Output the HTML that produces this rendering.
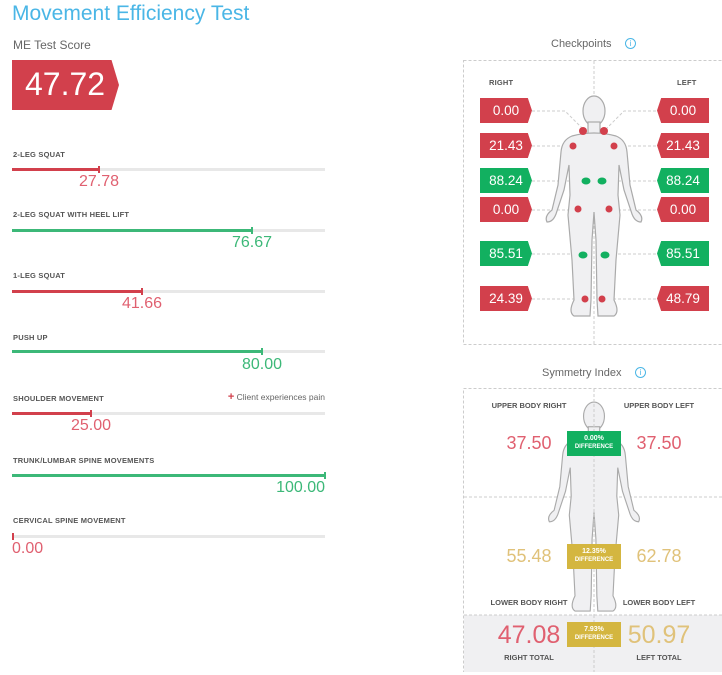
<!DOCTYPE html>
<html><head><meta charset="utf-8"><style>
*{margin:0;padding:0;box-sizing:border-box}
body{width:722px;height:675px;background:#fff;font-family:"Liberation Sans",sans-serif;position:relative;overflow:hidden}
.a{position:absolute;white-space:nowrap}
.lbl{font-size:7.5px;font-weight:bold;color:#555;letter-spacing:.2px}
.track{position:absolute;left:12px;width:313px;height:3px;background:#e8e8e8}
.fill{position:absolute;left:12px;height:3px}
.tick{position:absolute;width:1.5px;height:7px}
.val{position:absolute;font-size:16px;transform:translateX(-50%)}
.badge{position:absolute;width:52px;height:25px;color:#fff;font-size:13.5px;line-height:25px;text-align:center}
.bl{clip-path:polygon(0 0,92% 0,100% 50%,92% 100%,0 100%)}
.br{clip-path:polygon(8% 0,100% 0,100% 100%,8% 100%,0 50%)}
.r{background:#d2404c}.g{background:#12b060}
.sl{font-size:7.5px;font-weight:bold;color:#555;transform:translateX(-50%)}
.sv{font-size:18px;transform:translateX(-50%)}
.db{position:absolute;width:54px;height:25px;color:#fff;text-align:center;font-weight:bold;font-size:6px;line-height:8px;padding-top:4px}
.db b{font-size:7px;display:block}
</style></head><body>
<div class="a" style="left:12px;top:2px;font-size:21px;color:#4ab6e6">Movement Efficiency Test</div>
<div class="a" style="left:13px;top:38px;font-size:12px;color:#666">ME Test Score</div>
<div class="a" style="left:12px;top:60px;width:107px;height:50px;background:#d2404c;clip-path:polygon(0 0,93% 0,100% 50%,93% 100%,0 100%)"></div>
<div class="a" style="left:25px;top:66px;font-size:32px;color:#fff">47.72</div>

<div class="a lbl" style="left:13px;top:150px">2-LEG SQUAT</div>
<div class="track" style="top:168px"></div><div class="fill" style="top:168px;width:87px;background:#d2404c"></div><div class="tick" style="left:98px;top:166px;background:#d2404c"></div>
<div class="val" style="left:99px;top:173px;color:#e06070">27.78</div>

<div class="a lbl" style="left:13px;top:210px">2-LEG SQUAT WITH HEEL LIFT</div>
<div class="track" style="top:229px"></div><div class="fill" style="top:229px;width:240px;background:#3cb878"></div><div class="tick" style="left:251px;top:227px;background:#3cb878"></div>
<div class="val" style="left:252px;top:234px;color:#3cb878">76.67</div>

<div class="a lbl" style="left:13px;top:271px">1-LEG SQUAT</div>
<div class="track" style="top:290px"></div><div class="fill" style="top:290px;width:130px;background:#d2404c"></div><div class="tick" style="left:141px;top:288px;background:#d2404c"></div>
<div class="val" style="left:142px;top:295px;color:#e06070">41.66</div>

<div class="a lbl" style="left:13px;top:333px">PUSH UP</div>
<div class="track" style="top:350px"></div><div class="fill" style="top:350px;width:250px;background:#3cb878"></div><div class="tick" style="left:261px;top:348px;background:#3cb878"></div>
<div class="val" style="left:262px;top:356px;color:#3cb878">80.00</div>

<div class="a lbl" style="left:13px;top:394px">SHOULDER MOVEMENT</div>
<div class="a" style="right:397px;top:391px;font-size:8.5px;color:#666"><span style="color:#d2404c;font-weight:bold;font-size:11px">+</span> Client experiences pain</div>
<div class="track" style="top:412px"></div><div class="fill" style="top:412px;width:78px;background:#d2404c"></div><div class="tick" style="left:90px;top:410px;background:#d2404c"></div>
<div class="val" style="left:91px;top:417px;color:#e06070">25.00</div>

<div class="a lbl" style="left:13px;top:456px">TRUNK/LUMBAR SPINE MOVEMENTS</div>
<div class="track" style="top:474px"></div><div class="fill" style="top:474px;width:313px;background:#3cb878"></div><div class="tick" style="left:324px;top:472px;background:#3cb878"></div>
<div class="a" style="right:397px;top:479px;font-size:16px;color:#3cb878">100.00</div>

<div class="a lbl" style="left:13px;top:516px">CERVICAL SPINE MOVEMENT</div>
<div class="track" style="top:535px"></div><div class="tick" style="left:12px;top:533px;background:#d2404c"></div>
<div class="a" style="left:12px;top:540px;font-size:16px;color:#e06070">0.00</div>

<div class="a" style="left:551px;top:38px;font-size:11px;color:#666">Checkpoints</div>
<div class="a" style="left:625px;top:38px;width:11px;height:11px;border:1.3px solid #4ab6e6;border-radius:50%;font-size:8px;color:#4ab6e6;text-align:center;line-height:9px">i</div>
<svg class="a" style="left:0;top:0" width="722" height="675">
<g fill="none" stroke="#ccc" stroke-dasharray="3,2" stroke-width="1">
<rect x="463.5" y="60.5" width="262" height="284"/>
<line x1="594" y1="61" x2="594" y2="344"/>
<path d="M532 111 H565 L582 128 M656 111 H624 L607 128 M532 146 H572 M656 146 H615 M532 181 H586 M656 181 H602 M532 210 H578 M656 210 H609 M532 254 H583 M656 254 H605 M532 299 H585 M656 299 H602"/>
<rect x="463.5" y="388.5" width="262" height="283"/>
<line x1="594" y1="389" x2="594" y2="672"/>
<line x1="464" y1="497" x2="722" y2="497"/>
</g>
<rect x="464" y="615" width="258" height="57" fill="#f0f0f2"/>
<line x1="464" y1="615" x2="722" y2="615" stroke="#ccc" stroke-dasharray="3,2"/>
<line x1="594" y1="615" x2="594" y2="672" stroke="#ccc" stroke-dasharray="3,2"/>
<defs><g id="body">
<ellipse cx="594" cy="111" rx="11" ry="15"/>
<rect x="588" y="122" width="12" height="12"/>
<path d="M572 136 Q594 130 616 136 Q626 140 627 152 L630 185 L636 210 Q644 216 641 222 Q635 222 632 214 L624 190 L619 165 L618 195 L620 215 L616 260 L614 300 Q620 312 614 316 L598 316 L597 300 L596 240 L594 212 L592 240 L591 300 L590 316 L574 316 Q568 312 574 300 L572 260 L568 215 L570 195 L569 165 L564 190 L556 214 Q553 222 547 222 Q544 216 552 210 L558 185 L561 152 Q562 140 572 136 Z"/>
</g></defs>
<g fill="#f0f0f2" stroke="#aaa" stroke-width="1.2"><use href="#body"/></g>
<g fill="#f0f0f2" stroke="#aaa" stroke-width="1.2" transform="translate(594,403) scale(0.95) translate(-594,-97)"><use href="#body"/></g>
<line x1="594" y1="389" x2="594" y2="615" stroke="#ccc" stroke-dasharray="3,2"/>
<g fill="#d2404c">
<ellipse cx="583" cy="131" rx="4" ry="4"/><ellipse cx="604" cy="131" rx="4" ry="4"/>
<circle cx="573" cy="146" r="3.5"/><circle cx="614" cy="146" r="3.5"/>
<circle cx="578" cy="209" r="3.5"/><circle cx="609" cy="209" r="3.5"/>
<circle cx="585" cy="299" r="3.5"/><circle cx="602" cy="299" r="3.5"/></g>
<g fill="#12b060">
<ellipse cx="586" cy="181" rx="4.5" ry="3.5"/><ellipse cx="602" cy="181" rx="4.5" ry="3.5"/>
<ellipse cx="583" cy="255" rx="4.5" ry="3.5"/><ellipse cx="605" cy="255" rx="4.5" ry="3.5"/></g>
</svg>
<div class="a lbl" style="left:489px;top:78px">RIGHT</div>
<div class="a lbl" style="left:677px;top:78px">LEFT</div>
<div class="badge bl r" style="left:480px;top:98px">0.00</div><div class="badge br r" style="left:657px;top:98px">0.00</div>
<div class="badge bl r" style="left:480px;top:133px">21.43</div><div class="badge br r" style="left:657px;top:133px">21.43</div>
<div class="badge bl g" style="left:480px;top:168px">88.24</div><div class="badge br g" style="left:657px;top:168px">88.24</div>
<div class="badge bl r" style="left:480px;top:197px">0.00</div><div class="badge br r" style="left:657px;top:197px">0.00</div>
<div class="badge bl g" style="left:480px;top:241px">85.51</div><div class="badge br g" style="left:657px;top:241px">85.51</div>
<div class="badge bl r" style="left:480px;top:286px">24.39</div><div class="badge br r" style="left:657px;top:286px">48.79</div>

<div class="a" style="left:542px;top:367px;font-size:11px;color:#666">Symmetry Index</div>
<div class="a" style="left:635px;top:367px;width:11px;height:11px;border:1.3px solid #4ab6e6;border-radius:50%;font-size:8px;color:#4ab6e6;text-align:center;line-height:9px">i</div>
<div class="a sl" style="left:529px;top:401px">UPPER BODY RIGHT</div>
<div class="a sl" style="left:659px;top:401px">UPPER BODY LEFT</div>
<div class="a sv" style="left:529px;top:433px;color:#e06070">37.50</div>
<div class="a sv" style="left:659px;top:433px;color:#e06070">37.50</div>
<div class="db" style="left:567px;top:431px;background:#12b060"><b>0.00%</b>DIFFERENCE</div>
<div class="a sv" style="left:529px;top:546px;color:#e0c27a">55.48</div>
<div class="a sv" style="left:659px;top:546px;color:#e0c27a">62.78</div>
<div class="db" style="left:567px;top:544px;background:#d4b640"><b>12.35%</b>DIFFERENCE</div>
<div class="a sl" style="left:529px;top:598px">LOWER BODY RIGHT</div>
<div class="a sl" style="left:659px;top:598px">LOWER BODY LEFT</div>
<div class="a" style="left:529px;top:621px;font-size:25px;color:#e06070;transform:translateX(-50%)">47.08</div>
<div class="a" style="left:659px;top:621px;font-size:25px;color:#e0c27a;transform:translateX(-50%)">50.97</div>
<div class="db" style="left:567px;top:622px;background:#d4b640"><b>7.93%</b>DIFFERENCE</div>
<div class="a sl" style="left:529px;top:653px">RIGHT TOTAL</div>
<div class="a sl" style="left:659px;top:653px">LEFT TOTAL</div>
</body></html>
